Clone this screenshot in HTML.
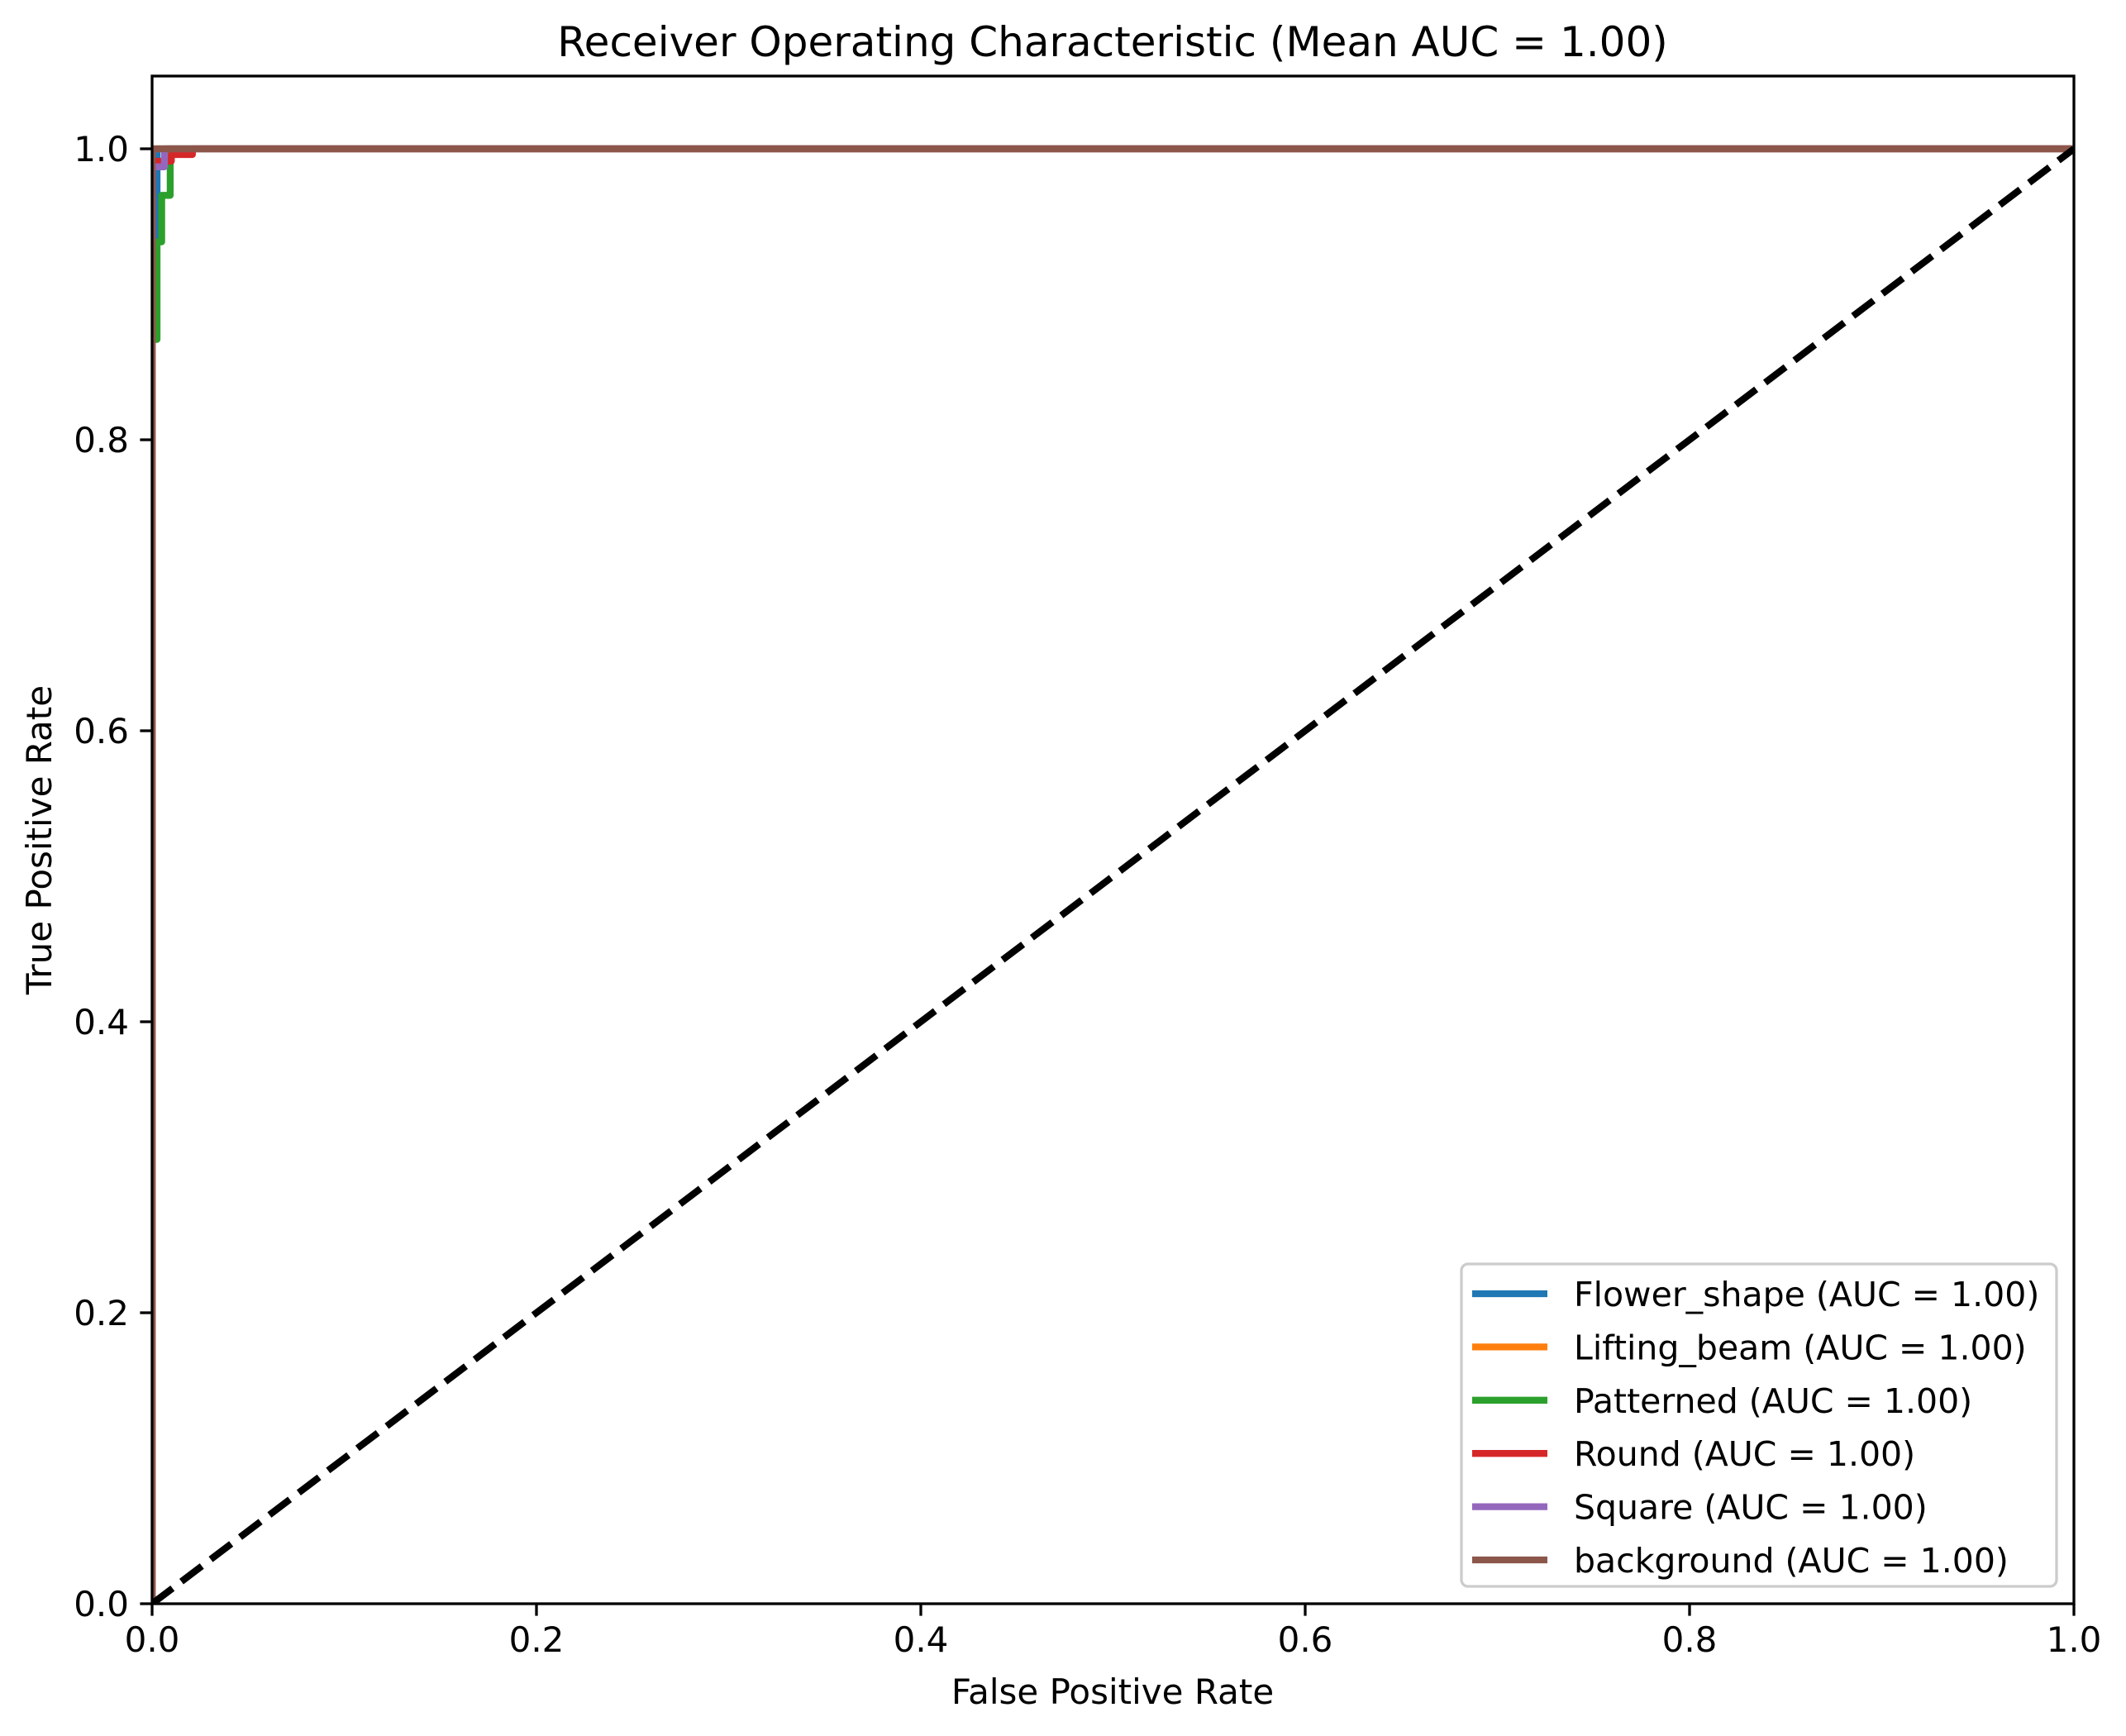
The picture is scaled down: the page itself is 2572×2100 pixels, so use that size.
<!DOCTYPE html>
<html><head><meta charset="utf-8"><style>
html,body{margin:0;padding:0;background:#fff;}
svg{display:block;font-family:"DejaVu Sans","Liberation Sans",sans-serif;}
</style></head><body>
<svg id="chart" width="2572" height="2100" viewBox="0 0 2572 2100" xmlns="http://www.w3.org/2000/svg">
<rect width="2572" height="2100" fill="#fff"/>
<text x="1346" y="68" font-size="50" text-anchor="middle">Receiver Operating Characteristic (Mean AUC = 1.00)</text>
<g id="plot"></g>
<text x="1346" y="2061" font-size="42" text-anchor="middle">False Positive Rate</text>
<text x="62" y="1016" font-size="42" text-anchor="middle" transform="rotate(-90 62 1016)">True Positive Rate</text>
</svg>
<script>
const seriesNames = ["Flower_shape","Lifting_beam","Patterned","Round","Square","background"];
const seriesColors = ["#1f77b4","#ff7f0e","#2ca02c","#d62728","#9467bd","#8c564b"];
const flowerFpr = [0,0,0.0026,0.0026,1];
const flowerTpr = [0,0.939,0.939,1,1];
const liftingFpr = [0,0,1];
const liftingTpr = [0,1,1];
const patternedFpr = [0,0,0.0026,0.0026,0.005,0.005,0.0094,0.0094,1];
const patternedTpr = [0,0.869,0.869,0.936,0.936,0.968,0.968,1,1];
const roundFpr = [0,0,0.01,0.01,0.021,0.021,1];
const roundTpr = [0,0.9915,0.9915,0.996,0.996,1,1];
const squareFpr = [0,0,0.0064,0.0064,1];
const squareTpr = [0,0.9876,0.9876,1,1];
const backgroundFpr = [0,0,1];
const backgroundTpr = [0,1,1];
const xTicks = [0,0.2,0.4,0.6,0.8,1.0];
const xTickLabels = ["0.0","0.2","0.4","0.6","0.8","1.0"];
const yTicks = [0,0.2,0.4,0.6,0.8,1.0];
const yTickLabels = ["0.0","0.2","0.4","0.6","0.8","1.0"];

const L=184,R=2509,T=92,B=1940;
const X0=0,X1=1,Y0=0,Y1=1.05;
function sx(v){return L+(v-X0)/(X1-X0)*(R-L);}
function sy(v){return B-(v-Y0)/(Y1-Y0)*(B-T);}
const NS="http://www.w3.org/2000/svg";
const plot=document.getElementById('plot');
function mk(tag,attrs,parent){const e=document.createElementNS(NS,tag);for(const k in attrs)e.setAttribute(k,attrs[k]);(parent||plot).appendChild(e);return e;}

const clip=mk('clipPath',{id:'clip'});
mk('rect',{x:L,y:T,width:R-L,height:B-T},clip);

const fprs=[flowerFpr,liftingFpr,patternedFpr,roundFpr,squareFpr,backgroundFpr];
const tprs=[flowerTpr,liftingTpr,patternedTpr,roundTpr,squareTpr,backgroundTpr];
const curves=mk('g',{'clip-path':'url(#clip)'});
for(let i=0;i<fprs.length;i++){
  const pts=fprs[i].map((f,j)=>sx(f).toFixed(1)+','+sy(tprs[i][j]).toFixed(1)).join(' ');
  const pl=mk('polyline',{points:pts,fill:'none',stroke:seriesColors[i],'stroke-width':8.3,'stroke-linejoin':'round','stroke-linecap':'square'},curves);
  
  
}
const diag=mk('line',{x1:sx(0),y1:sy(0),x2:sx(1),y2:sy(1),stroke:'#000','stroke-width':8.3,'stroke-dasharray':'31,13.5'},curves);



const frame=mk('rect',{x:L,y:T,width:R-L,height:B-T,fill:'none',stroke:'#000','stroke-width':3.3});



xTicks.forEach((v,i)=>{
  const t=mk('line',{x1:sx(v),y1:B,x2:sx(v),y2:B+14.6,stroke:'#000','stroke-width':3.3});
  
  
  const tx=mk('text',{x:sx(v),y:B+58,'font-size':42,'text-anchor':'middle'});
  tx.textContent=xTickLabels[i];
  
  
});
yTicks.forEach((v,i)=>{
  const t=mk('line',{x1:L-14.6,y1:sy(v),x2:L,y2:sy(v),stroke:'#000','stroke-width':3.3});
  
  
  const tx=mk('text',{x:L-28,y:sy(v)+15,'font-size':42,'text-anchor':'end'});
  tx.textContent=yTickLabels[i];
  
  
});

const lg=mk('g',{});


mk('rect',{x:1768,y:1529,width:720,height:390,rx:8,fill:'#fff','fill-opacity':0.8,stroke:'#cccccc','stroke-width':3.3},lg);
seriesNames.forEach((n,i)=>{
  const cy=1565+i*64.4;
  const e=mk('g',{},lg);
  
  
  mk('line',{x1:1781,y1:cy,x2:1872,y2:cy,stroke:seriesColors[i],'stroke-width':8.3},e);
  const t=mk('text',{x:1904,y:cy+15,'font-size':41},e);
  t.textContent=n+' (AUC = 1.00)';
});
</script>
</body></html>
